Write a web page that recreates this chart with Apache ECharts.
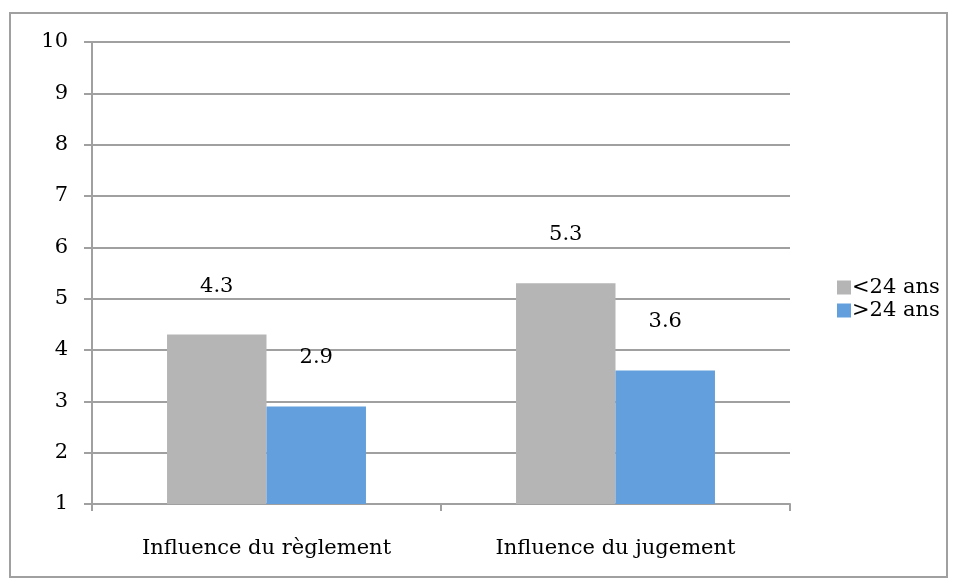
<!DOCTYPE html>
<html>
<head>
<meta charset="utf-8">
<script src="https://cdn.jsdelivr.net/npm/echarts@6/dist/echarts.min.js"></script>
<style>
  html, body { margin: 0; padding: 0; background: #fff; }
  #chart { width: 954px; height: 584px; }
</style>
</head>
<body>
<div id="chart"></div>
<script>
const categories = ['Influence du règlement', 'Influence du jugement'];
const seriesNames = ['<24 ans', '>24 ans'];
const under24 = [4.3, 5.3];
const over24 = [2.9, 3.6];

const font = 'DejaVu Serif';
const chart = echarts.init(document.getElementById('chart'));

const labelStyle = {
  show: true,
  position: 'top',
  distance: 38,
  color: '#000',
  fontFamily: font,
  fontSize: 21
};

chart.setOption({
  animation: false,
  graphic: [{
    type: 'rect',
    shape: { x: 10, y: 13, width: 937, height: 564 },
    style: { fill: 'none', stroke: '#a0a0a0', lineWidth: 2 }
  }],
  grid: { left: 92, right: 164, top: 42, bottom: 80 },
  legend: {
    orient: 'vertical',
    left: 832,
    top: 272,
    itemWidth: 14,
    itemHeight: 14,
    itemGap: 2,
    icon: 'rect',
    data: seriesNames,
    textStyle: { fontFamily: font, fontSize: 21, color: '#000', padding: [0, 0, 0, -4] }
  },
  xAxis: {
    type: 'category',
    data: categories,
    axisLine: { lineStyle: { color: '#a0a0a0', width: 2 } },
    axisTick: { show: true, length: 7, lineStyle: { color: '#a0a0a0', width: 2 } },
    axisLabel: { color: '#000', fontFamily: font, fontSize: 21, margin: 34 }
  },
  yAxis: {
    type: 'value',
    min: 1,
    max: 10,
    interval: 1,
    axisLine: { show: true, lineStyle: { color: '#a0a0a0', width: 2 } },
    axisTick: { show: true, length: 8, lineStyle: { color: '#a0a0a0', width: 2 } },
    splitLine: { lineStyle: { color: '#a0a0a0', width: 2 } },
    axisLabel: { color: '#000', fontFamily: font, fontSize: 21, margin: 24 }
  },
  series: [
    {
      name: seriesNames[0],
      type: 'bar',
      data: under24,
      barGap: '0%',
      barCategoryGap: '43%',
      itemStyle: { color: '#b5b5b5' },
      label: labelStyle
    },
    {
      name: seriesNames[1],
      type: 'bar',
      data: over24,
      itemStyle: { color: '#639fdc' },
      label: labelStyle
    }
  ]
});
</script>
</body>
</html>
